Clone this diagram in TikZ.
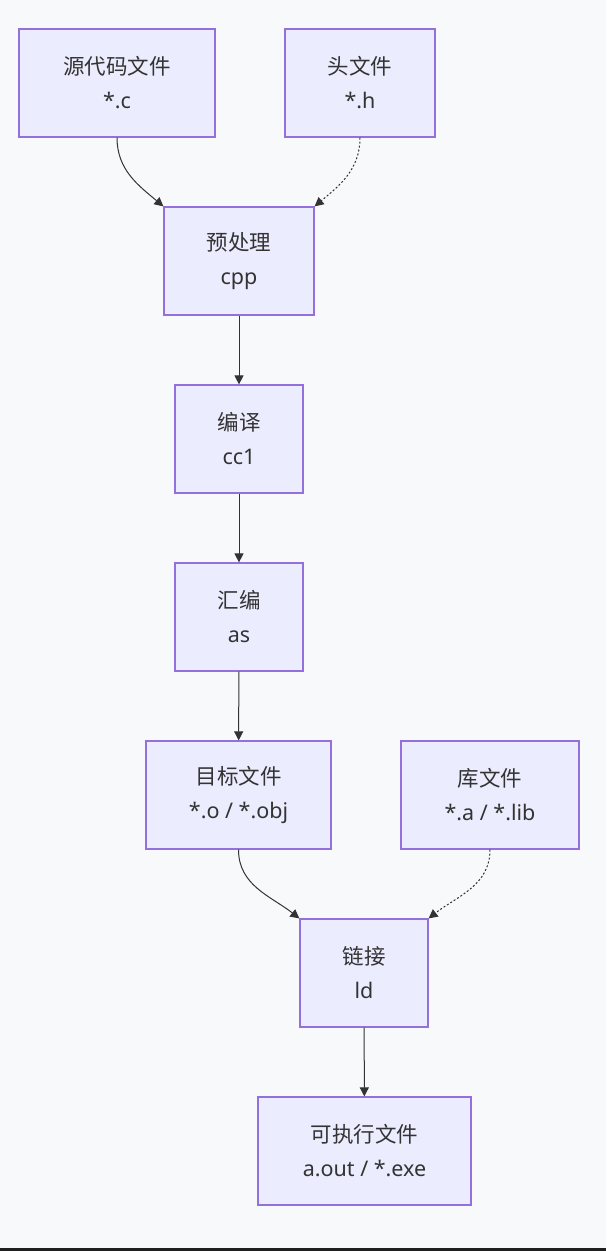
\documentclass[tikz,border=0pt]{standalone}
\usepackage{fontspec}
\setmainfont{Noto Sans}
\newfontfamily\cjk{Noto Sans CJK SC}
\usepackage{xcolor}
\usepackage{tikz}
\usetikzlibrary{shapes.geometric, arrows, arrows.meta}
\definecolor{boxfill}{HTML}{ECECFF}
\definecolor{boxline}{HTML}{9370DB}
\definecolor{ink}{HTML}{333333}
\definecolor{pagebg}{HTML}{F8F9FB}
\tikzstyle{filebox} = [rectangle, minimum width=128pt, minimum height=108pt, inner sep=0pt, align=center, text=ink, draw=boxline, line width=1.2pt, fill=boxfill, font=\fontsize{21.5pt}{34pt}\selectfont]
\tikzstyle{arrow} = [line width=1pt, draw=ink, -{Triangle[length=9pt, width=9pt]}]
\tikzstyle{dotline} = [arrow, dash pattern=on 2pt off 2pt]

\begin{document}
\begin{tikzpicture}[node distance = 178pt, x=1pt, y=1pt]
    \fill [pagebg] (0,0) rectangle (606,-1251);
    \fill [black!88] (0,-1248) rectangle (606,-1251);
    \useasboundingbox (0,0) rectangle (606,-1251);
    \node (src) [filebox, minimum width=196pt] at (117,-83) {{\cjk 源代码文件}\\*.c};
    \node (hdr) [filebox, minimum width=150pt, right of=src, xshift=65pt] {{\cjk 头文件}\\*.h};
    \node (pre) [filebox, minimum width=150pt, below of=src, xshift=122pt] {{\cjk 预处理}\\cpp};
    \node (cc1) [filebox, below of=pre] {{\cjk 编译}\\cc1};
    \node (asm) [filebox, below of=cc1] {{\cjk 汇编}\\as};
    \node (obj) [filebox, minimum width=185pt, below of=asm, xshift=-0.5pt] {{\cjk 目标文件}\\*.o / *.obj};
    \node (lib) [filebox, minimum width=178pt, right of=obj, xshift=73.5pt] {{\cjk 库文件}\\*.a / *.lib};
    \node (ld) [filebox, below of=obj, xshift=125.5pt] {{\cjk 链接}\\ld};
    \node (exe) [filebox, minimum width=213pt, below of=ld, xshift=0.5pt] {{\cjk 可执行文件}\\a.out / *.exe};
    \draw [arrow] (src.south) to[out=-90, in=140] (pre.north west);
    \draw [dotline] (hdr.south) to[out=-90, in=40] (pre.north east);
    \draw [arrow] (pre) -- (cc1);
    \draw [arrow] (cc1) -- (asm);
    \draw [arrow] (asm) -- (obj);
    \draw [arrow] (obj.south) to[out=-90, in=142] (ld.north west);
    \draw [dotline] (lib.south) to[out=-90, in=38] (ld.north east);
    \draw [arrow] (ld) -- (exe);
\end{tikzpicture}
\end{document}
